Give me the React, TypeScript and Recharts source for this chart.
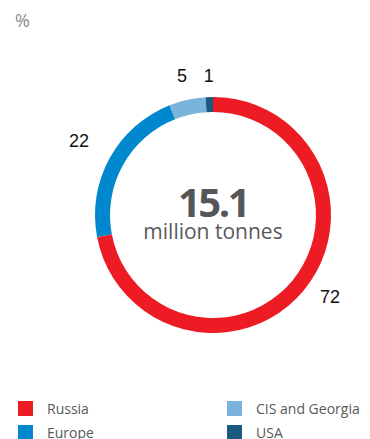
import { PieChart, Pie, Cell, Legend, Label } from 'recharts';

document.body.style.margin = '0';

const regions = ['Russia', 'Europe', 'CIS and Georgia', 'USA'];
const shares = [72, 22, 5, 1];
const COLORS = ['#ED1C24', '#0088CE', '#7AB4DC', '#1B5A80'];
const total = '15.1';
const unit = 'million tonnes';

const data = regions.map((name, i) => ({ name, value: shares[i] }));

const CX = 213;
const CY = 215;
const RADIAN = Math.PI / 180;
// label distance beyond the ring and small angle nudges, per slice
const LABEL_GAP = [25, 35, 24, 21];
const LABEL_TURN = [4.5, 0, 0, 0];

function renderLabel(props: any) {
  const { cx, cy, midAngle, outerRadius, value, index } = props;
  const r = outerRadius + LABEL_GAP[index];
  const a = (midAngle + LABEL_TURN[index]) * RADIAN;
  const x = cx + r * Math.cos(-a);
  const y = cy + r * Math.sin(-a);
  return (
    <text
      x={x}
      y={y}
      fill="#111"
      fontSize={18}
      fontFamily="Liberation Sans, Arial, sans-serif"
      textAnchor="middle"
      dominantBaseline="central"
    >
      {value}
    </text>
  );
}

function CenterLabel() {
  return (
    <g>
      <text
        x={CX}
        y={CY - 14}
        textAnchor="middle"
        dominantBaseline="central"
        fill="#555658"
        fontSize={40}
        fontWeight={700}
        letterSpacing={-2.5}
        fontFamily="Open Sans, sans-serif"
      >
        {total}
      </text>
      <text
        x={CX}
        y={CY + 16}
        textAnchor="middle"
        dominantBaseline="central"
        fill="#58595B"
        fontSize={21}
        fontFamily="Open Sans, sans-serif"
      >
        {unit}
      </text>
    </g>
  );
}

function LegendContent() {
  return (
    <div
      style={{
        display: 'grid',
        gridTemplateColumns: '209px 150px',
        rowGap: 10,
        fontFamily: 'Open Sans, sans-serif',
        fontSize: 14,
        color: '#58595B',
      }}
    >
      {[0, 2, 1, 3].map((i) => (
        <div key={regions[i]} style={{ display: 'flex', alignItems: 'center', height: 14 }}>
          <span style={{ width: 15, height: 15, background: COLORS[i], marginRight: 14, flexShrink: 0 }} />
          <span>{regions[i]}</span>
        </div>
      ))}
    </div>
  );
}

export default function App() {
  return (
    <div style={{ position: 'relative', width: 370, height: 439, background: '#fff', overflow: 'hidden' }}>
      <div
        style={{
          position: 'absolute',
          left: 15,
          top: 8,
          fontFamily: 'Open Sans, sans-serif',
          fontSize: 18,
          color: '#8a8a8a',
        }}
      >
        %
      </div>
      <PieChart width={370} height={439} margin={{ top: 0, right: 0, bottom: 0, left: 0 }}>
        <Pie
          data={data}
          dataKey="value"
          nameKey="name"
          cx={CX}
          cy={CY}
          innerRadius={103}
          outerRadius={118}
          startAngle={90}
          endAngle={-270}
          stroke="none"
          label={renderLabel}
          labelLine={false}
          isAnimationActive={false}
        >
          {data.map((_, index) => (
            <Cell key={index} fill={COLORS[index]} />
          ))}
          <Label position="center" content={CenterLabel} />
        </Pie>
        <Legend
          content={LegendContent}
          wrapperStyle={{ position: 'absolute', left: 18, top: 401, width: 360 }}
        />
      </PieChart>
    </div>
  );
}
